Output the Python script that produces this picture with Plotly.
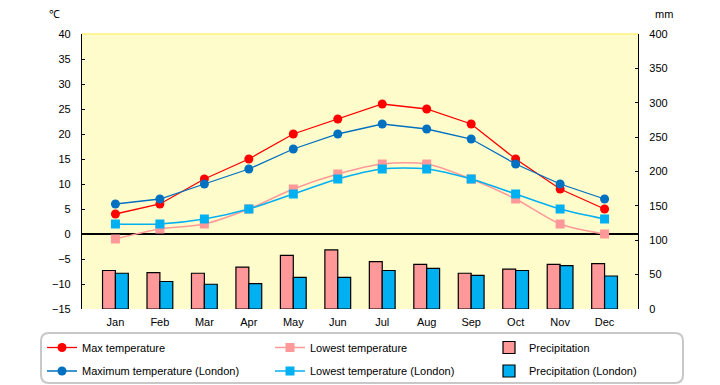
import plotly.graph_objects as go

months = ["Jan", "Feb", "Mar", "Apr", "May", "Jun", "Jul", "Aug", "Sep", "Oct", "Nov", "Dec"]
max_temp = [4, 6, 11, 15, 20, 23, 26, 25, 22, 15, 9, 5]
low_temp = [-1, 1, 2, 5, 9, 12, 14, 14, 11, 7, 2, 0]
precip = [56, 53, 52, 61, 78, 86, 69, 65, 52, 58, 65, 66]
max_temp_london = [6, 7, 10, 13, 17, 20, 22, 21, 19, 14, 10, 7]
low_temp_london = [2, 2, 3, 5, 8, 11, 13, 13, 11, 8, 5, 3]
precip_london = [52, 40, 36, 37, 46, 46, 56, 59, 49, 56, 63, 48]

temp_ticks = list(range(-15, 41, 5))
mm_ticks = list(range(0, 401, 50))

RED = "#FF0000"
DBLUE = "#0070C0"
PINK = "#FF9999"
CYAN = "#00B0F0"
FONT = "Liberation Sans"

fig = go.Figure()

fig.add_trace(go.Bar(x=months, y=precip, name="Precipitation", yaxis="y2",
                     marker=dict(color=PINK, line=dict(color="black", width=1.2)),
                     legend="legend3"))
fig.add_trace(go.Bar(x=months, y=precip_london, name="Precipitation (London)", yaxis="y2",
                     marker=dict(color=CYAN, line=dict(color="black", width=1.2)),
                     legend="legend6"))

fig.add_trace(go.Scatter(x=months, y=max_temp, name="Max temperature", mode="lines+markers",
                         line=dict(color=RED, width=1.3),
                         marker=dict(symbol="circle", size=9, color=RED),
                         legend="legend"))
fig.add_trace(go.Scatter(x=months, y=low_temp, name="Lowest temperature", mode="lines+markers",
                         line=dict(color=PINK, width=1.5, shape="spline", smoothing=0.8),
                         marker=dict(symbol="square", size=9, color=PINK),
                         legend="legend2"))
fig.add_trace(go.Scatter(x=months, y=max_temp_london, name="Maximum temperature (London)",
                         mode="lines+markers",
                         line=dict(color=DBLUE, width=1.3),
                         marker=dict(symbol="circle", size=9, color=DBLUE),
                         legend="legend4"))
fig.add_trace(go.Scatter(x=months, y=low_temp_london, name="Lowest temperature (London)",
                         mode="lines+markers",
                         line=dict(color=CYAN, width=1.5, shape="spline", smoothing=0.8),
                         marker=dict(symbol="square", size=9, color=CYAN),
                         legend="legend5"))

# page body has an 8px default margin; layout is specified in page pixels
OFF = 8
W, H = 720, 385
PL, PR, PT, PB = 82, 638, 34, 309  # plot area in page pixels
L, T = PL - OFF, PT - OFF
R, B = W - (PR - OFF), H - (PB - OFF)
pw, ph = PR - PL, PB - PT

def px(x):
    return (x - PL) / pw

def py(y):
    return (PB - y) / ph

# rounded legend frame
x0, x1, y0, y1 = px(41), px(683), py(383), py(333)
rx, ry = 8 / pw, 8 / ph
path = (f"M {x0+rx},{y1} L {x1-rx},{y1} Q {x1},{y1} {x1},{y1-ry} "
        f"L {x1},{y0+ry} Q {x1},{y0} {x1-rx},{y0} L {x0+rx},{y0} "
        f"Q {x0},{y0} {x0},{y0+ry} L {x0},{y1-ry} Q {x0},{y1} {x0+rx},{y1} Z")

def leg(xpix, ypix):
    return dict(orientation="v", xanchor="left", yanchor="middle",
                x=px(xpix), y=py(ypix),
                font=dict(family=FONT, size=11, color="black"),
                bgcolor="rgba(0,0,0,0)", borderwidth=0)

row1, row2 = 347.5, 371
cols = [42, 270, 489]

fig.update_layout(
    width=W, height=H,
    margin=dict(l=L, r=R, t=T, b=B, pad=0, autoexpand=False),
    paper_bgcolor="white",
    plot_bgcolor="#FFFCCC",
    font=dict(family=FONT, size=11, color="black"),
    barmode="group", bargap=0.42, bargroupgap=0,
    xaxis=dict(showgrid=False, showline=False, ticks="", tickfont=dict(size=11),
               ticklabelstandoff=5),
    yaxis=dict(range=[-15, 40], tickvals=temp_ticks, showgrid=False,
               showline=True, linecolor="black", linewidth=1.2,
               ticks="inside", ticklen=3, tickcolor="black",
               zeroline=True, zerolinecolor="black", zerolinewidth=1.5,
               tickfont=dict(size=11), ticklabelstandoff=8),
    yaxis2=dict(range=[0, 400], tickvals=mm_ticks, overlaying="y", side="right",
                showgrid=False, showline=True, linecolor="black", linewidth=1.2,
                ticks="inside", ticklen=3, tickcolor="black", zeroline=False,
                tickfont=dict(size=11), ticklabelstandoff=8),
    legend=leg(cols[0], row1),
    legend2=leg(cols[1], row1),
    legend3=leg(cols[2], row1),
    legend4=leg(cols[0], row2),
    legend5=leg(cols[1], row2),
    legend6=leg(cols[2], row2),
    showlegend=True,
    shapes=[
        dict(type="line", xref="paper", yref="paper", x0=0, x1=1, y0=1, y1=1,
             line=dict(color="#FFF27A", width=1.5)),
        dict(type="path", xref="paper", yref="paper", path=path,
             line=dict(color="#C8C8C8", width=2), fillcolor="rgba(0,0,0,0)"),
    ],
    annotations=[
        dict(text="℃", xref="paper", yref="paper", x=px(54), y=py(14),
             xanchor="center", yanchor="middle", borderpad=0,
             showarrow=False, font=dict(size=11)),
        dict(text="mm", xref="paper", yref="paper", x=px(664), y=py(14),
             xanchor="center", yanchor="middle", borderpad=0,
             showarrow=False, font=dict(size=11)),
    ],
)

fig.write_html("out.html")
